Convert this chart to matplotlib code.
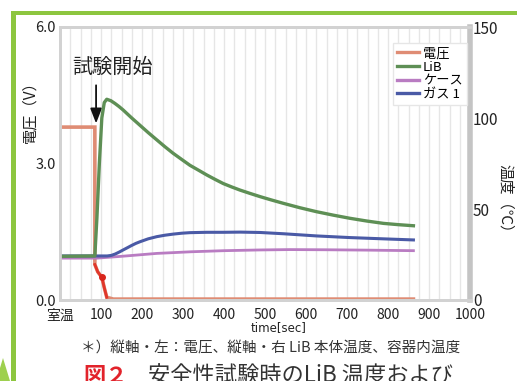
import matplotlib.pyplot as plt
from matplotlib.patches import Rectangle, Polygon
from matplotlib.lines import Line2D
from matplotlib.ticker import MultipleLocator

plt.rcParams['font.family'] = ['Noto Sans CJK JP', 'DejaVu Sans']

# --- data ---
time_v = [0, 85, 85, 92, 102, 108, 114, 130, 862]
volt = [3.8, 3.8, 0.78, 0.62, 0.50, 0.27, 0.06, 0.02, 0.02]

time_lib = [0, 85, 90, 96, 102, 108, 114, 124, 134, 144, 154, 175, 195, 215, 236, 256,
            276, 297, 317, 338, 358, 378, 398, 419, 439, 463, 488, 515, 545, 585, 626,
            667, 707, 748, 789, 825, 862]
temp_lib = [24, 24.2, 45, 75, 100, 108.5, 110.3, 109.5, 108, 106.3, 104.4, 100, 96, 92,
            88, 84.2, 80.6, 77.2, 74, 71.3, 68.7, 66.3, 64, 62.1, 60.4, 58.6, 56.8, 55,
            53.1, 50.7, 48.5, 46.6, 44.9, 43.4, 42.1, 41.4, 40.8]

time_gas = [0, 115, 125, 135, 145, 154, 165, 175, 185, 195, 215, 236, 256, 276, 297,
            317, 358, 398, 440, 488, 545, 626, 707, 789, 862]
temp_gas = [24.2, 24.2, 24.5, 25.3, 26.4, 27.5, 28.8, 30, 31.1, 32, 33.6, 34.8, 35.6,
            36.2, 36.7, 37, 37.2, 37.2, 37.3, 37.1, 36.4, 35.2, 34.3, 33.6, 33]

time_case = [0, 90, 150, 236, 320, 400, 488, 560, 650, 750, 862]
temp_case = [23, 23, 24, 25.6, 26.5, 27.1, 27.5, 27.7, 27.6, 27.4, 27.1]

x_ticks = [0, 100, 200, 300, 400, 500, 600, 700, 800, 900, 1000]
x_labels = ['室温', '100', '200', '300', '400', '500', '600', '700', '800', '900', '1000']
names = ['電圧', 'LiB', 'ケース', 'ガス 1']

W, H = 517, 381
fig = plt.figure(figsize=(W / 100, H / 100), dpi=100)


def fx(px):
    return px / W


def fy(py):
    return 1 - py / H


ax = fig.add_axes([fx(60), fy(300), fx(470) - fx(60), fy(27) - fy(300)])
ax2 = ax.twinx()

c_v, c_lib, c_case, c_gas = '#DF8C74', '#5E8F55', '#B97CC2', '#4A5AA6'

ax.plot(time_v, volt, color=c_v, lw=2.6, solid_joinstyle='miter', zorder=2)
ax.plot(time_v[2:7], volt[2:7], color='#E0362A', lw=2.0, zorder=3)
ax.plot([time_v[4]], [volt[4]], 'o', color='#D8261C', ms=4, zorder=4)

ax2.plot(time_case, temp_case, color=c_case, lw=2.0, solid_joinstyle='round')
ax2.plot(time_gas, temp_gas, color=c_gas, lw=2.2, solid_joinstyle='round')
ax2.plot(time_lib, temp_lib, color=c_lib, lw=2.4, solid_joinstyle='round')

ax.set_xlim(0, 1000)
ax.set_ylim(0, 6)
ax2.set_ylim(0, 150)

ax.set_xticks(x_ticks)
ax.set_xticklabels(x_labels)
ax.xaxis.set_minor_locator(MultipleLocator(25))
ax.grid(which='both', axis='x', color='#e6e6e6', lw=1.0)
ax.set_yticks([0, 3, 6])
ax.set_yticklabels(['0.0', '3.0', '6.0'])
ax2.set_yticks([0, 50, 100, 150])

ax.tick_params(axis='both', which='both', length=0)
ax.tick_params(axis='x', labelsize=10, pad=6, colors='#222222')
ax.tick_params(axis='y', labelsize=10.5, pad=3, colors='#222222')
ax2.tick_params(axis='y', length=0, labelsize=11, pad=2, colors='#222222')
for lbl in ax.get_xticklabels():
    lbl.set_family(['Liberation Sans Narrow', 'Noto Sans CJK JP'])

for a in (ax, ax2):
    for s in a.spines.values():
        s.set_color('#d2d2d2')
        s.set_linewidth(2)
ax2.spines['right'].set_color('#c4c4c4')
ax2.spines['right'].set_linewidth(4)

handles = [Line2D([], [], color=c, lw=2.4) for c in (c_v, c_lib, c_case, c_gas)]
leg = ax2.legend(handles, names, loc='upper left', bbox_to_anchor=(0.795, 0.965),
                 fontsize=9.5, handlelength=1.7, handletextpad=0.3, labelspacing=0.05,
                 borderpad=0.3, fancybox=False, framealpha=1, edgecolor='#e6e6e6')

# annotation
ax.text(129, 5.1, '試験開始', fontsize=14.5, ha='center', va='center', color='#222222')
ax.annotate('', xy=(88, 3.82), xytext=(88, 4.78),
            arrowprops=dict(arrowstyle='-|>,head_width=0.35,head_length=0.9',
                            color='#111111', lw=1.3))

# axis titles
fig.text(fx(30), fy(108), '電圧（V）', rotation=90, fontsize=11, ha='center', va='center',
         color='#222222')
fig.text(fx(505), fy(202), '温度（℃）', rotation=270, fontsize=11, ha='center', va='center',
         color='#222222')
fig.text(fx(279), fy(328), 'time[sec]', fontsize=8.5, ha='center', va='center',
         color='#222222', family=['Liberation Sans Narrow', 'DejaVu Sans'])

fig.text(fx(271), fy(348), '＊）縦軸・左：電圧、縦軸・右 LiB 本体温度、容器内温度',
         fontsize=10.5, ha='center', va='center', color='#333333')
fig.text(fx(83), fy(365), '図２', fontsize=16, fontweight='bold', va='top', color='#E2232B')
fig.text(fx(148), fy(365), '安全性試験時のLiB 温度および', fontsize=16, va='top',
         color='#333333')

# green frame
green = '#8DC63F'
fig.add_artist(Rectangle((fx(11), fy(15)), 1 - fx(11), fy(11) - fy(15),
                         transform=fig.transFigure, color=green, lw=0))
fig.add_artist(Rectangle((fx(11), 0), fx(16) - fx(11), fy(11),
                         transform=fig.transFigure, color=green, lw=0))
fig.add_artist(Polygon([(0, 0), (0, fy(368)), (fx(3), fy(358)), (fx(10), 0)],
                       closed=True, transform=fig.transFigure, color='#9ED04F', lw=0))

fig.savefig('out.png', dpi=100)
